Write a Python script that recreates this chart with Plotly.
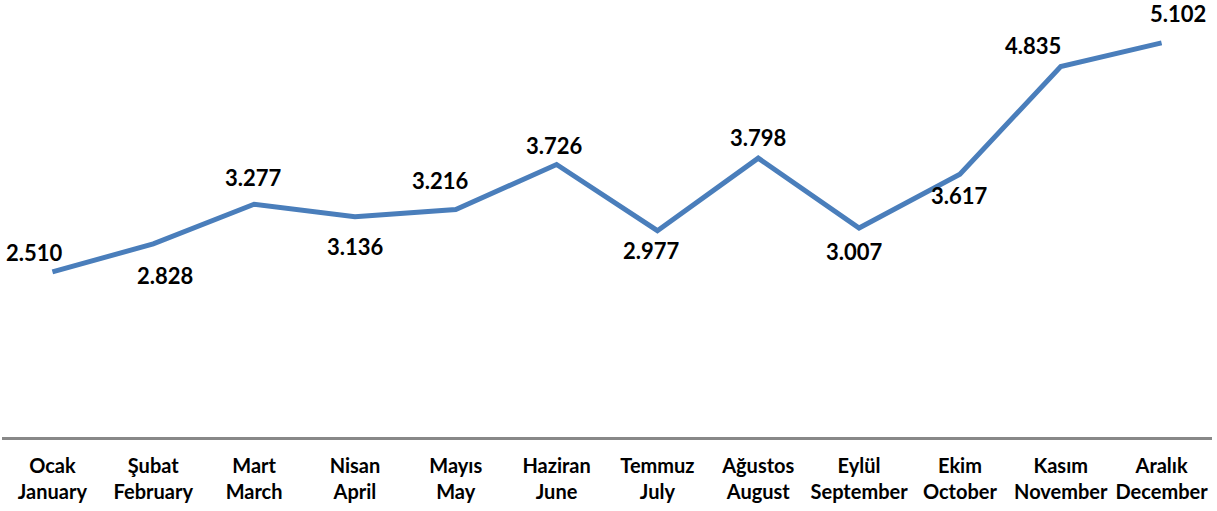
import plotly.graph_objects as go

months_tr = ["Ocak", "Şubat", "Mart", "Nisan", "Mayıs", "Haziran", "Temmuz",
             "Ağustos", "Eylül", "Ekim", "Kasım", "Aralık"]
months_en = ["January", "February", "March", "April", "May", "June", "July",
             "August", "September", "October", "November", "December"]
values = [2.510, 2.828, 3.277, 3.136, 3.216, 3.726, 2.977, 3.798, 3.007, 3.617, 4.835, 5.102]
value_labels = ["2.510", "2.828", "3.277", "3.136", "3.216", "3.726", "2.977",
                "3.798", "3.007", "3.617", "4.835", "5.102"]

# label offsets in pixels (style)
label_dx = [-18, 12, -1, 1, -15, -2, -6, 0, -5, 0, -28, 16]
label_dy = [19, -32, 27, -30, 29, 19, -20, 21, -23, -21, 21, 29]

cats = [f"{t}<br>{e}" for t, e in zip(months_tr, months_en)]
xs = list(range(len(values)))

fig = go.Figure()
fig.add_trace(go.Scatter(x=xs, y=values, mode="lines",
                         line=dict(color="#4A7EBB", width=5),
                         hoverinfo="skip"))

for i, (v, lab) in enumerate(zip(values, value_labels)):
    fig.add_annotation(x=i, y=v, text=f"<b>{lab}</b>", showarrow=False,
                       xshift=label_dx[i], yshift=label_dy[i],
                       font=dict(family="Lato", size=22, color="#000000"))

fig.update_layout(
    width=1217, height=511,
    margin=dict(l=2, r=5, t=0, b=74),
    paper_bgcolor="white", plot_bgcolor="white",
    showlegend=False,
    font=dict(family="Lato", color="#000000"),
)
fig.update_xaxes(
    range=[-0.5, 11.5], automargin=False,
    tickmode="array", tickvals=xs, ticktext=[f"<b>{c}</b>" for c in cats],
    tickfont=dict(family="Lato", size=20, color="#000000"),
    showgrid=False, zeroline=False,
    showline=True, linecolor="#888888", linewidth=3,
    ticks="", ticklabelstandoff=9,
)
fig.update_yaxes(
    range=[0.642, 5.588], visible=False, showgrid=False, zeroline=False,
    automargin=False,
)

fig.write_html("out.html", config={"displayModeBar": False},
               post_script="document.body.style.margin='0';document.body.style.overflow='hidden';")
